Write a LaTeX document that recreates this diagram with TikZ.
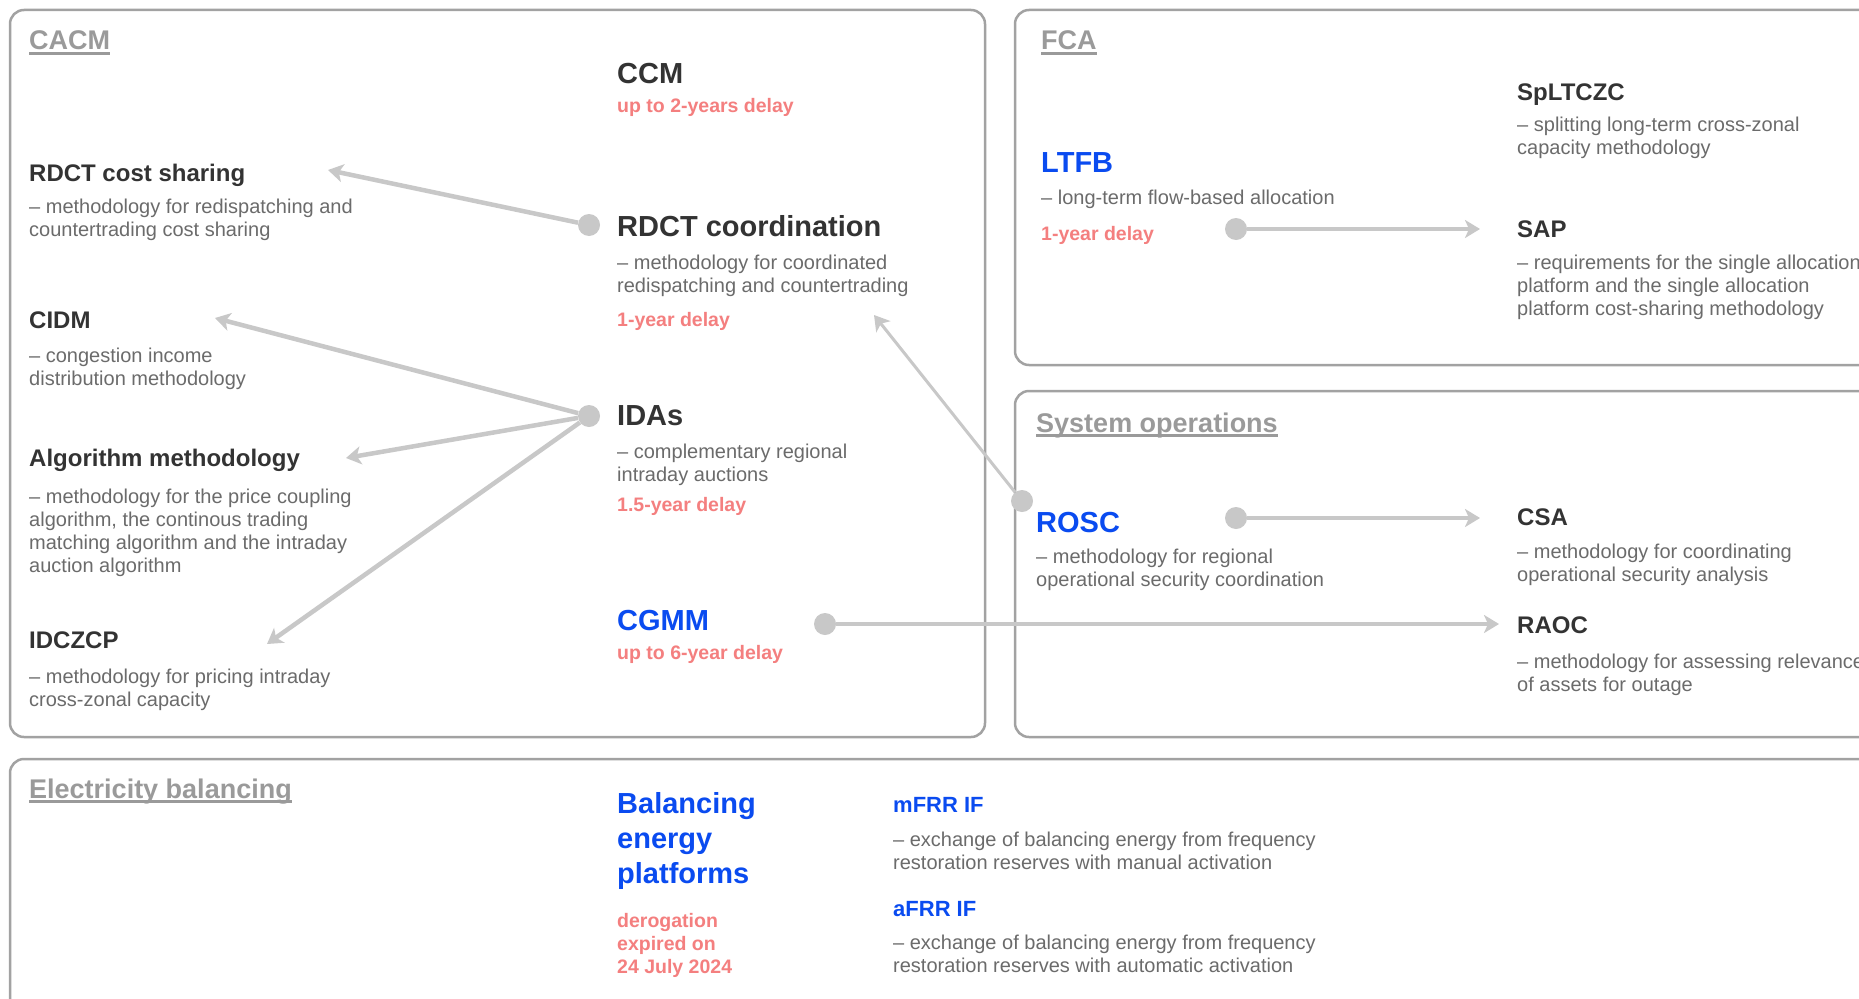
\documentclass[tikz,border=0pt]{standalone}
\usepackage{fontspec}
\setmainfont{Liberation Sans}
\usetikzlibrary{arrows.meta}

\definecolor{secgray}{HTML}{9A9A9A}
\definecolor{panelgray}{HTML}{A2A2A2}
\definecolor{linegray}{HTML}{C8C8C8}
\definecolor{titledark}{HTML}{333333}
\definecolor{descgray}{HTML}{6B6B6B}
\definecolor{delayred}{HTML}{F47F7F}
\definecolor{linkblue}{HTML}{0A4BF0}

\newcommand*{\xLeft}{29}
\newcommand*{\xMid}{617}
\newcommand*{\xFca}{1041}
\newcommand*{\xSys}{1036}
\newcommand*{\xRight}{1517}
\newcommand*{\xIf}{893}

% multi-line nodes sit on the baseline of their last line
\tikzset{
  panel/.style={draw=panelgray, line width=2.5, rounded corners=14},
  sectitle/.style={font=\fontsize{27}{32}\selectfont\bfseries, text=secgray, anchor=base west, inner sep=0},
  secline/.style={draw=secgray, line width=2.5},
  mainname/.style={font=\fontsize{29}{35}\selectfont\bfseries, text=titledark, anchor=base west, inner sep=0, align=left},
  subname/.style={font=\fontsize{24}{28}\selectfont\bfseries, text=titledark, anchor=base west, inner sep=0},
  descr/.style={font=\fontsize{20}{23}\selectfont, text=descgray, anchor=base west, inner sep=0, align=left},
  delaytxt/.style={font=\fontsize{19.5}{23}\selectfont\bfseries, text=delayred, anchor=base west, inner sep=0, align=left},
  dot/.style={circle, fill=linegray, minimum size=22, inner sep=0},
  conn/.style={draw=linegray, line width=4.5, -{Stealth[length=15pt,width=18pt,inset=4pt]}},
}

\begin{document}
\begin{tikzpicture}[x=1pt,y=-1pt]
    \fill[white] (0,0) rectangle (1859,998);
    \clip (0,0) rectangle (1859,998);
%   \foreach \i in {0,100,...,1800} {
%       \draw [very thin,gray] (\i,0) -- (\i,998)  ;
%   }

    \draw[panel] (10,10) rectangle (985,737);
    \draw[panel] (1015,10) rectangle (1890,365);
    \draw[panel] (1015,391) rectangle (1890,737);
    \draw[panel] (10,759) rectangle (1890,1030);

    \node[sectitle] (cacm) at (\xLeft,50) {CACM};
    \node[sectitle] (fca) at (\xFca,50) {FCA};
    \node[sectitle] (sysop) at (\xSys,432) {System operations};
    \node[sectitle] (balance) at (\xLeft,798) {Electricity balancing};
    \foreach \tn in {cacm,fca,sysop,balance} {
        \draw[secline] ([yshift=-3.5pt]\tn.base west) -- ([yshift=-3.5pt]\tn.base east);
    }

    % CACM
    \node[mainname] (ccm) at (\xMid,83) {CCM};
    \node[delaytxt] (ccmdelay) at (\xMid,112) {up to 2-years delay};
    \node[subname] (costshare) at (\xLeft,181) {RDCT cost sharing};
    \node[descr] (costsharedesc) at (\xLeft,236) {– methodology for redispatching and\\countertrading cost sharing};
    \node[mainname] (rdct) at (\xMid,236) {RDCT coordination};
    \node[descr] (rdctdesc) at (\xMid,292) {– methodology for coordinated\\redispatching and countertrading};
    \node[delaytxt] (rdctdelay) at (\xMid,326) {1-year delay};
    \node[subname] (cidm) at (\xLeft,328) {CIDM};
    \node[descr] (cidmdesc) at (\xLeft,385) {– congestion income\\distribution methodology};
    \node[mainname] (idas) at (\xMid,425) {IDAs};
    \node[descr] (idasdesc) at (\xMid,481) {– complementary regional\\intraday auctions};
    \node[delaytxt] (idasdelay) at (\xMid,511) {1.5-year delay};
    \node[subname] (algo) at (\xLeft,466) {Algorithm methodology};
    \node[descr] (algodesc) at (\xLeft,572) {– methodology for the price coupling\\algorithm, the continous trading\\matching algorithm and the intraday\\auction algorithm};
    \node[subname] (idczcp) at (\xLeft,648) {IDCZCP};
    \node[descr] (idczcpdesc) at (\xLeft,706) {– methodology for pricing intraday\\cross-zonal capacity};
    \node[mainname, text=linkblue] (cgmm) at (\xMid,630) {CGMM};
    \node[delaytxt] (cgmmdelay) at (\xMid,659) {up to 6-year delay};

    % FCA
    \node[subname] (spltczc) at (\xRight,100) {SpLTCZC};
    \node[descr] (spltczcdesc) at (\xRight,154) {– splitting long-term cross-zonal\\capacity methodology};
    \node[mainname, text=linkblue] (ltfb) at (\xFca,172) {LTFB};
    \node[descr] (ltfbdesc) at (\xFca,204) {– long-term flow-based allocation};
    \node[delaytxt] (ltfbdelay) at (\xFca,240) {1-year delay};
    \node[subname] (sap) at (\xRight,237) {SAP};
    \node[descr] (sapdesc) at (\xRight,315) {– requirements for the single allocation\\platform and the single allocation\\platform cost-sharing methodology};

    % system operations
    \node[mainname, text=linkblue] (rosc) at (\xSys,532) {ROSC};
    \node[descr] (roscdesc) at (\xSys,586) {– methodology for regional\\operational security coordination};
    \node[subname] (csa) at (\xRight,525) {CSA};
    \node[descr] (csadesc) at (\xRight,581) {– methodology for coordinating\\operational security analysis};
    \node[subname] (raoc) at (\xRight,633) {RAOC};
    \node[descr] (raocdesc) at (\xRight,691) {– methodology for assessing relevance\\of assets for outage};

    % balancing
    \node[mainname, text=linkblue] (bep) at (\xMid,883) {Balancing\\energy\\platforms};
    \node[delaytxt] (bepdelay) at (\xMid,973) {derogation\\expired on\\24 July 2024};
    \node[subname, font=\fontsize{22}{26}\selectfont\bfseries, text=linkblue] (mfrr) at (\xIf,812) {mFRR IF};
    \node[descr] (mfrrdesc) at (\xIf,869) {– exchange of balancing energy from frequency\\restoration reserves with manual activation};
    \node[subname, font=\fontsize{22}{26}\selectfont\bfseries, text=linkblue] (afrr) at (\xIf,916) {aFRR IF};
    \node[descr] (afrrdesc) at (\xIf,972) {– exchange of balancing energy from frequency\\restoration reserves with automatic activation};

    \node[dot] (rdctdot) at (589,225) {};
    \node[dot] (idasdot) at (589,416) {};
    \node[dot] (cgmmdot) at (825,624) {};
    \node[dot] (ltfbdot) at (1236,229) {};
    \node[dot] (roscdot) at (1236,518) {};
    \node[dot] (roscin) at (1022,501) {};

    \coordinate (costtip) at (328,170);
    \coordinate (cidmtip) at (215,318);
    \coordinate (algotip) at (346,458);
    \coordinate (idczcptip) at (267,644);
    \coordinate (rdcttip) at (874,315);
    \coordinate (raoctip) at (1499,624);
    \coordinate (saptip) at (1480,229);
    \coordinate (csatip) at (1480,518);

    \draw[conn] (rdctdot) -- (costtip);
    \foreach \tp in {cidmtip,algotip,idczcptip} {
        \draw[conn] (idasdot) -- (\tp);
    }
    \draw[conn] (cgmmdot) -- (raoctip);
    \draw[conn] (ltfbdot) -- (saptip);
    \draw[conn] (roscdot) -- (csatip);
    \draw[conn, line width=3] (roscin) -- (rdcttip);

\end{tikzpicture}
\end{document}
